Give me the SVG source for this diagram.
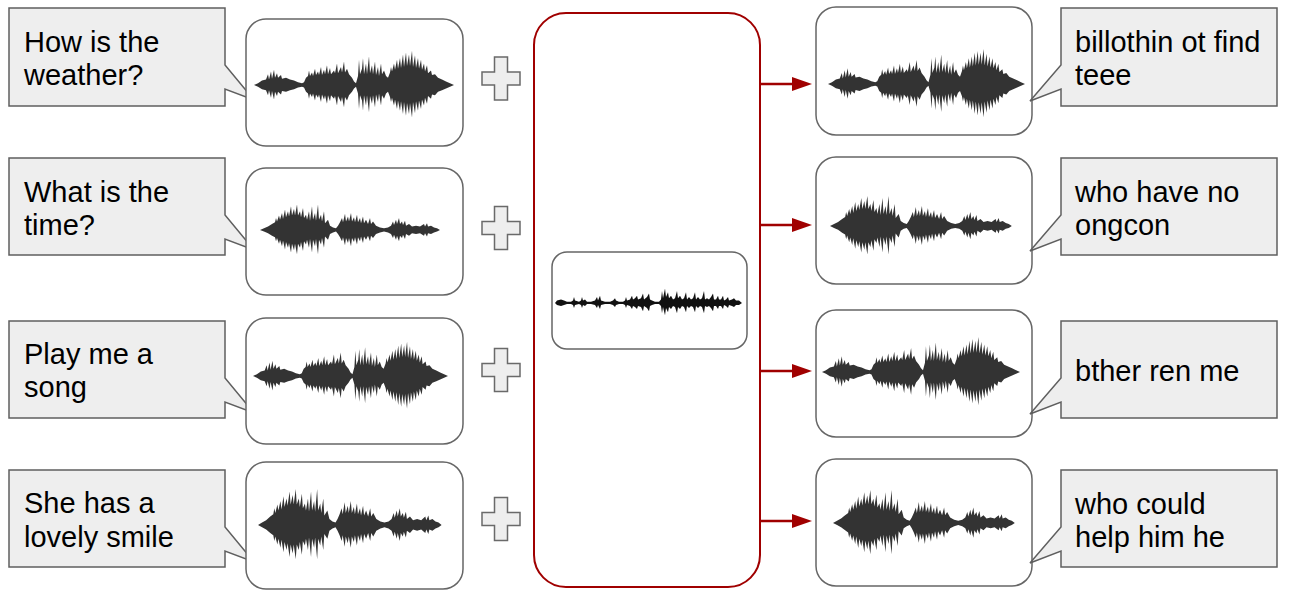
<svg xmlns="http://www.w3.org/2000/svg" xmlns:xlink="http://www.w3.org/1999/xlink" width="1300" height="599" viewBox="0 0 1300 599">
<style>
.callout{fill:#eeeeee;stroke:#5f5f5f;stroke-width:1.5;stroke-linejoin:miter}
.box{fill:#ffffff;stroke:#666666;stroke-width:1.5}
.plus{fill:#eeeeee;stroke:#6a6a6a;stroke-width:1.5}
.wave{fill:#333333}
.wavec{fill:#111111}
.txt{font-family:"Liberation Sans",Arial,sans-serif;font-size:29px;fill:#000000}
.conn{stroke:#a00000;stroke-width:2.5;fill:none}
</style>
<defs>
<marker id="ah" markerUnits="userSpaceOnUse" markerWidth="20" markerHeight="14" refX="8" refY="7" orient="auto">
<path d="M0,0 L20,7 L0,14 Z" fill="#a00000"/>
</marker>
<path id="plusShape" d="M-6.5,-21.5 H6.5 V-6.5 H19 V6.5 H6.5 V21.5 H-6.5 V6.5 H-19 V-6.5 H-6.5 Z"/>
<path id="halfA" d="M0,0 L4,-2 L8,-5 L12,-6 L14,-12 L15,-6 L17,-15 L18,-7 L20,-17 L21,-8 L23,-13 L24,-8 L27,-11 L28,-7 L32,-8 L36,-6 L40,-5 L44,-3 L48,-2 L50,-3 L52,-8 L54,-10 L55,-16 L56,-10 L58,-14 L59,-10 L61,-18 L62,-11 L64,-15 L65,-11 L67,-20 L68,-11 L70,-17 L71,-12 L73,-22 L74,-12 L76,-19 L77,-12 L80,-16 L81,-13 L83,-24 L84,-13 L87,-20 L88,-14 L90,-26 L91,-14 L93,-18 L95,-12 L98,-8 L100,-4 L102,-2 L104,-10 L105,-28 L106,-12 L108,-18 L109,-30 L110,-12 L112,-24 L113,-12 L115,-32 L116,-13 L118,-22 L119,-12 L121,-26 L122,-11 L124,-20 L125,-10 L127,-24 L128,-12 L130,-16 L132,-10 L134,-8 L136,-14 L137,-20 L138,-15 L140,-24 L141,-17 L143,-28 L144,-18 L146,-30 L147,-19 L149,-34 L150,-20 L152,-36 L153,-21 L155,-34 L156,-21 L158,-38 L159,-20 L161,-33 L162,-19 L164,-30 L165,-18 L167,-28 L168,-17 L170,-24 L171,-15 L173,-22 L174,-13 L177,-16 L178,-11 L181,-12 L184,-8 L188,-6 L192,-4 L196,-2 L200,0 Z"/>
<path id="halfB" d="M0,0 L4,-2 L8,-4 L12,-7 L15,-9 L16,-14 L17,-10 L19,-17 L20,-12 L22,-20 L23,-13 L25,-24 L26,-15 L28,-22 L29,-16 L31,-28 L32,-17 L34,-25 L35,-17 L37,-30 L38,-17 L40,-22 L41,-15 L43,-26 L44,-14 L46,-18 L47,-12 L49,-22 L50,-11 L52,-28 L53,-12 L55,-20 L56,-11 L58,-30 L59,-12 L61,-18 L62,-10 L64,-22 L65,-8 L68,-12 L70,-5 L73,-3 L76,-2 L78,-5 L80,-9 L82,-14 L83,-9 L85,-19 L86,-10 L88,-16 L89,-10 L91,-20 L92,-10 L94,-15 L95,-9 L97,-18 L98,-9 L100,-14 L101,-8 L103,-16 L104,-8 L106,-12 L108,-7 L110,-14 L111,-7 L113,-10 L116,-5 L120,-3 L124,-2 L128,-3 L131,-5 L133,-10 L134,-6 L136,-12 L137,-7 L139,-14 L140,-7 L142,-10 L143,-6 L145,-11 L146,-5 L149,-7 L152,-4 L156,-5 L160,-4 L164,-7 L165,-4 L167,-8 L168,-4 L171,-5 L174,-3 L177,-2 L180,0 Z"/>
<path id="halfC" d="M0,0 L2,-2 L6,-3 L9,-2 L12,-1 L16,-1 L18,-2 L19,-5 L20,-2 L24,-1 L26,-2 L27,-5 L28,-2 L30,-3 L32,-1 L36,-1 L40,-2 L42,-5 L43,-2 L45,-6 L46,-2 L50,-1 L55,-1 L58,-2 L60,-4 L61,-2 L64,-1 L68,-1 L70,-2 L71,-5 L72,-2 L75,-3 L77,-6 L78,-3 L80,-4 L82,-6 L83,-3 L86,-4 L88,-8 L89,-3 L92,-5 L94,-8 L95,-3 L97,-2 L100,-1 L104,-1 L106,-3 L107,-10 L108,-4 L110,-12 L111,-5 L113,-9 L114,-4 L116,-6 L118,-3 L120,-4 L122,-10 L123,-4 L125,-6 L127,-3 L129,-4 L131,-9 L132,-3 L134,-5 L136,-3 L138,-4 L140,-9 L141,-3 L143,-5 L145,-3 L147,-4 L149,-10 L150,-3 L152,-4 L154,-3 L156,-5 L158,-8 L159,-3 L161,-3 L163,-6 L164,-3 L166,-3 L168,-6 L169,-2 L171,-3 L173,-5 L174,-2 L177,-3 L179,-4 L181,-2 L184,-2 L187,0 Z"/>
<g id="waveA" class="wave"><use xlink:href="#halfA" href="#halfA"/><use xlink:href="#halfA" href="#halfA" transform="scale(1,-0.95)"/></g>
<g id="waveB" class="wave"><use xlink:href="#halfB" href="#halfB"/><use xlink:href="#halfB" href="#halfB" transform="scale(1,-0.95)"/></g>
<g id="waveC" class="wavec"><use xlink:href="#halfC" href="#halfC"/><use xlink:href="#halfC" href="#halfC" transform="scale(1,-0.85)"/></g>
</defs>
<rect width="1300" height="599" fill="#ffffff"/>

<!-- Left row 1 -->
<g id="in1-callout">
<path class="callout" d="M9,8 H225 V65 L254,100 L225,89 V106 H9 Z"/>
<text class="txt" x="24" y="52">How is the</text>
<text class="txt" x="24" y="85">weather?</text>
</g>
<g id="in1-audio">
<rect class="box" x="246" y="19" width="217" height="127" rx="20"/>
<use xlink:href="#waveA" href="#waveA" transform="translate(254,85) scale(1,0.9)"/>
</g>
<g id="plus1"><use xlink:href="#plusShape" href="#plusShape" class="plus" transform="translate(501,78.5)"/></g>

<!-- Left row 2 -->
<g id="in2-callout">
<path class="callout" d="M9,158 H225 V215 L254,250 L225,239 V255 H9 Z"/>
<text class="txt" x="24" y="202">What is the</text>
<text class="txt" x="24" y="235">time?</text>
</g>
<g id="in2-audio">
<rect class="box" x="246" y="168" width="217" height="127" rx="20"/>
<use xlink:href="#waveB" href="#waveB" transform="translate(260,230) scale(1,0.85)"/>
</g>
<g id="plus2"><use xlink:href="#plusShape" href="#plusShape" class="plus" transform="translate(501,228)"/></g>

<!-- Left row 3 -->
<g id="in3-callout">
<path class="callout" d="M9,321 H225 V378 L254,413 L225,402 V418 H9 Z"/>
<text class="txt" x="24" y="364">Play me a</text>
<text class="txt" x="24" y="397">song</text>
</g>
<g id="in3-audio">
<rect class="box" x="246" y="318" width="217" height="126" rx="20"/>
<use xlink:href="#waveA" href="#waveA" transform="translate(253,376) scale(0.975,0.9)"/>
</g>
<g id="plus3"><use xlink:href="#plusShape" href="#plusShape" class="plus" transform="translate(501,370)"/></g>

<!-- Left row 4 -->
<g id="in4-callout">
<path class="callout" d="M9,470 H225 V527 L254,562 L225,551 V567 H9 Z"/>
<text class="txt" x="24" y="513">She has a</text>
<text class="txt" x="24" y="547">lovely smile</text>
</g>
<g id="in4-audio">
<rect class="box" x="246" y="462" width="217" height="127" rx="20"/>
<use xlink:href="#waveB" href="#waveB" transform="translate(258,525) scale(1.02,1.2)"/>
</g>
<g id="plus4"><use xlink:href="#plusShape" href="#plusShape" class="plus" transform="translate(501,519)"/></g>

<!-- Center -->
<g id="model">
<rect x="534" y="13" width="226" height="574" rx="32" fill="#ffffff" stroke="#a00000" stroke-width="2"/>
</g>
<g id="noise">
<rect class="box" x="552" y="252" width="195" height="97" rx="15"/>
<use xlink:href="#waveC" href="#waveC" transform="translate(555,303) scale(1,1.2)"/>
</g>

<!-- Connectors -->
<g id="connectors">
<line class="conn" x1="760" y1="84" x2="800" y2="84" marker-end="url(#ah)"/>
<line class="conn" x1="760" y1="225" x2="800" y2="225" marker-end="url(#ah)"/>
<line class="conn" x1="760" y1="371" x2="800" y2="371" marker-end="url(#ah)"/>
<line class="conn" x1="760" y1="521" x2="800" y2="521" marker-end="url(#ah)"/>
</g>

<!-- Right row 1 -->
<g id="out1-audio">
<rect class="box" x="816" y="7" width="216" height="128" rx="20"/>
<use xlink:href="#waveA" href="#waveA" transform="translate(828,84) scale(0.985,0.92)"/>
</g>
<g id="out1-callout">
<path class="callout" d="M1061,8 H1277 V106 H1061 V89 L1030,101 L1061,65 Z"/>
<text class="txt" x="1075" y="52">billothin ot find</text>
<text class="txt" x="1075" y="85">teee</text>
</g>

<!-- Right row 2 -->
<g id="out2-audio">
<rect class="box" x="816" y="157" width="216" height="127" rx="20"/>
<use xlink:href="#waveB" href="#waveB" transform="translate(830,226) scale(1.01,1.0)"/>
</g>
<g id="out2-callout">
<path class="callout" d="M1061,158 H1277 V255 H1061 V239 L1030,251 L1061,215 Z"/>
<text class="txt" x="1075" y="202">who have no</text>
<text class="txt" x="1075" y="235">ongcon</text>
</g>

<!-- Right row 3 -->
<g id="out3-audio">
<rect class="box" x="816" y="310" width="216" height="127" rx="20"/>
<use xlink:href="#waveA" href="#waveA" transform="translate(822,372) scale(0.99,0.92)"/>
</g>
<g id="out3-callout">
<path class="callout" d="M1061,321 H1277 V418 H1061 V402 L1030,414 L1061,378 Z"/>
<text class="txt" x="1075" y="381">bther ren me</text>
</g>

<!-- Right row 4 -->
<g id="out4-audio">
<rect class="box" x="816" y="459" width="216" height="127" rx="20"/>
<use xlink:href="#waveB" href="#waveB" transform="translate(833,523) scale(1.01,1.1)"/>
</g>
<g id="out4-callout">
<path class="callout" d="M1061,470 H1277 V567 H1061 V551 L1030,563 L1061,527 Z"/>
<text class="txt" x="1075" y="514">who could</text>
<text class="txt" x="1075" y="547">help him he</text>
</g>
</svg>
